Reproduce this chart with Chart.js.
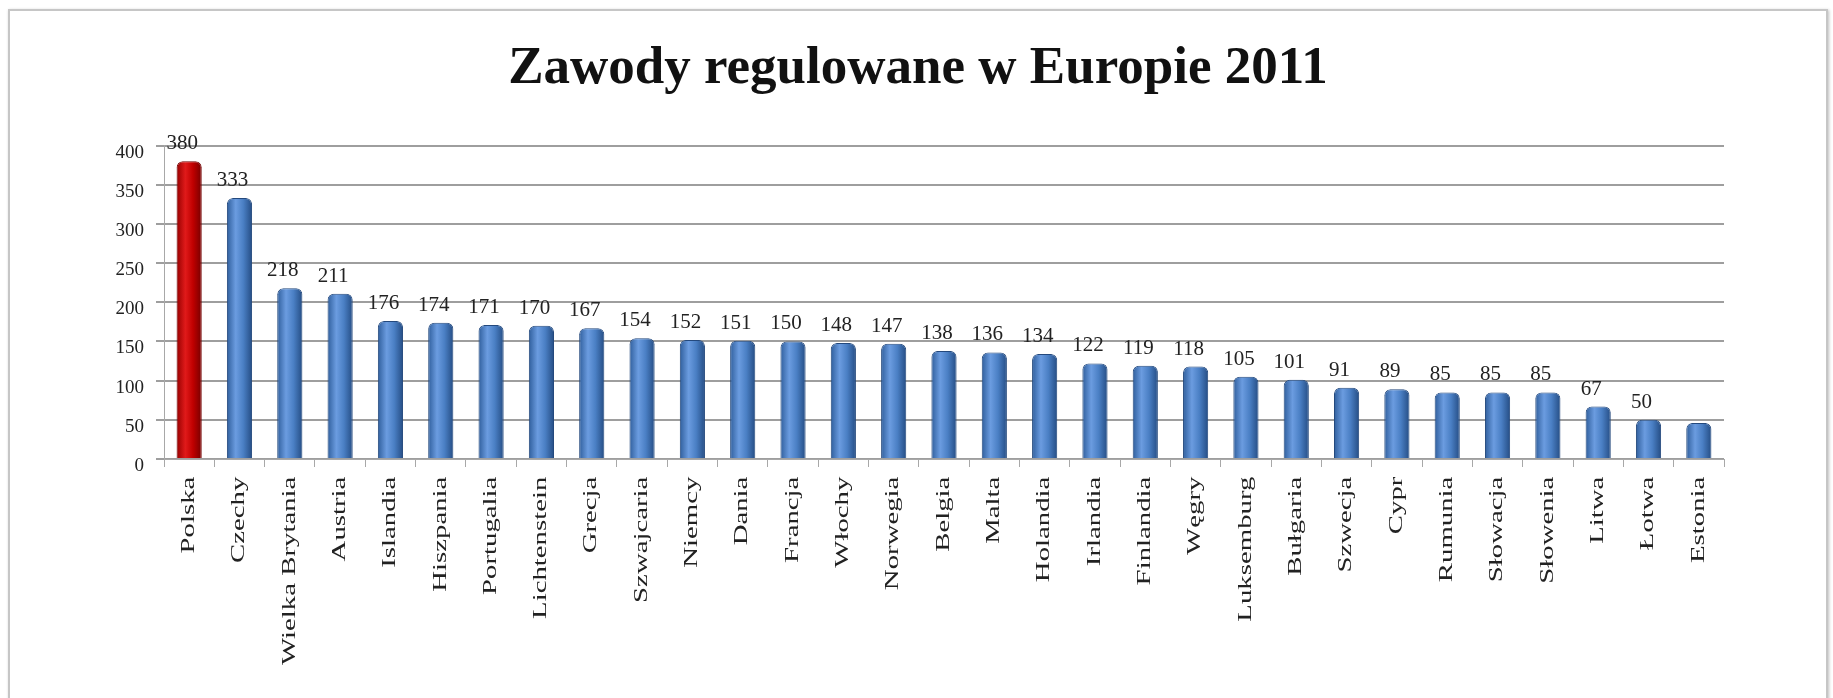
<!DOCTYPE html>
<html lang="pl">
<head>
<meta charset="utf-8">
<title>Zawody regulowane w Europie 2011</title>
<script src="https://cdn.jsdelivr.net/npm/chart.js@4.4.0/dist/chart.umd.min.js"></script>
<style>
    html, body { margin: 0; padding: 0; background: #fff; }
    body { width: 1833px; height: 698px; overflow: hidden; position: relative; }
    #ramka {
        position: absolute; left: 8px; top: 9px; width: 1816px; height: 720px;
        border: 2px solid #c6c6c6; box-shadow: 1px 1px 3px rgba(0, 0, 0, 0.25);
    }
    #wykres-container { position: absolute; left: 0; top: 0; width: 1833px; height: 698px; }
</style>
</head>
<body>
<div id="ramka"></div>
<div id="wykres-container"><canvas id="wykres"></canvas></div>
<script>
const kraje = ['Polska', 'Czechy', 'Wielka Brytania', 'Austria', 'Islandia', 'Hiszpania', 'Portugalia',
    'Lichtenstein', 'Grecja', 'Szwajcaria', 'Niemcy', 'Dania', 'Francja', 'Włochy', 'Norwegia', 'Belgia',
    'Malta', 'Holandia', 'Irlandia', 'Finlandia', 'Węgry', 'Luksemburg', 'Bułgaria', 'Szwecja', 'Cypr',
    'Rumunia', 'Słowacja', 'Słowenia', 'Litwa', 'Łotwa', 'Estonia'];
const wartosci = [380, 333, 218, 211, 176, 174, 171, 170, 167, 154, 152, 151, 150, 148, 147, 138,
    136, 134, 122, 119, 118, 105, 101, 91, 89, 85, 85, 85, 67, 50, 46];
// etykiety nad słupkami (Estonia nie ma etykiety na oryginale)
const etykietyWartosci = ['380', '333', '218', '211', '176', '174', '171', '170', '167', '154', '152',
    '151', '150', '148', '147', '138', '136', '134', '122', '119', '118', '105', '101', '91', '89',
    '85', '85', '85', '67', '50', null];
const podzialkaY = [0, 50, 100, 150, 200, 250, 300, 350, 400];

const szerokoscSlupka = 0.5;

function kolorSlupka(context) {
    const czerwony = context.dataIndex === 0;
    const sx = context.chart.scales.x;
    if (!sx || !context.chart.chartArea) {
        return czerwony ? '#c00000' : '#4a7ebb';
    }
    const x = sx.getPixelForValue(context.dataIndex);
    const w = (sx.right - sx.left) / kraje.length * szerokoscSlupka;
    const g = context.chart.ctx.createLinearGradient(x - w / 2, 0, x + w / 2, 0);
    if (czerwony) {
        g.addColorStop(0, '#960000');
        g.addColorStop(0.35, '#e01a1a');
        g.addColorStop(0.65, '#c00000');
        g.addColorStop(1, '#760000');
    } else {
        g.addColorStop(0, '#2f5e9c');
        g.addColorStop(0.35, '#6b9ce0');
        g.addColorStop(0.65, '#4a7fc4');
        g.addColorStop(1, '#254d84');
    }
    return g;
}

const etykietyPlugin = {
    id: 'etykiety',
    afterDatasetsDraw(chart) {
        const c = chart.ctx;
        const meta = chart.getDatasetMeta(0);
        c.save();
        c.font = '21px "Liberation Serif"';
        c.fillStyle = '#222';
        c.textAlign = 'center';
        c.textBaseline = 'bottom';
        meta.data.forEach((bar, i) => {
            if (!etykietyWartosci[i]) return;
            c.fillText(etykietyWartosci[i], bar.x - 7, bar.y - 7);
        });
        c.restore();
        // podpisy osi X są na oryginale rozciągnięte w pionie
        const os = chart.scales.x.top;
        c.save();
        c.translate(0, os);
        c.scale(1, 1.6);
        c.translate(0, -os);
    },
    afterDraw(chart) {
        chart.ctx.restore();
    }
};

const ctx = document.getElementById('wykres').getContext('2d');
new Chart(ctx, {
    type: 'bar',
    data: {
        labels: kraje,
        datasets: [{
            data: wartosci,
            backgroundColor: kolorSlupka,
            borderColor: (c) => c.dataIndex === 0 ? '#700000' : '#24497d',
            borderWidth: 1,
            borderRadius: { topLeft: 6, topRight: 6 },
            borderSkipped: 'bottom',
            barPercentage: szerokoscSlupka,
            categoryPercentage: 1
        }]
    },
    options: {
        responsive: true,
        maintainAspectRatio: false,
        animation: false,
        layout: { padding: { left: 112, right: 109, top: 0, bottom: 0 } },
        plugins: {
            legend: { display: false },
            tooltip: { enabled: false },
            title: {
                display: true,
                text: 'Zawody regulowane w Europie 2011',
                color: '#111',
                font: { family: 'Liberation Serif', size: 53, weight: 'bold' },
                padding: { top: 38, bottom: 44 }
            }
        },
        scales: {
            x: {
                grid: { drawOnChartArea: false, offset: true, tickLength: 8, color: '#a8a8a8' },
                border: { color: '#a8a8a8' },
                ticks: {
                    z: 1,
                    autoSkip: false,
                    maxRotation: 90,
                    minRotation: 90,
                    padding: 3,
                    color: '#222',
                    font: { family: 'Liberation Serif', size: 18 }
                },
                afterFit: (s) => { s.height = 698 - 459; }
            },
            y: {
                min: podzialkaY[0],
                max: podzialkaY[podzialkaY.length - 1],
                ticks: {
                    stepSize: podzialkaY[1] - podzialkaY[0],
                    color: '#222',
                    padding: 12,
                    labelOffset: 7,
                    font: { family: 'Liberation Serif', size: 19 }
                },
                grid: { color: '#9e9e9e', lineWidth: 2, tickLength: 8 },
                border: { display: true, color: '#a8a8a8' },
                afterFit: (s) => { s.width = 52; }
            }
        }
    },
    plugins: [etykietyPlugin]
});
</script>
</body>
</html>
